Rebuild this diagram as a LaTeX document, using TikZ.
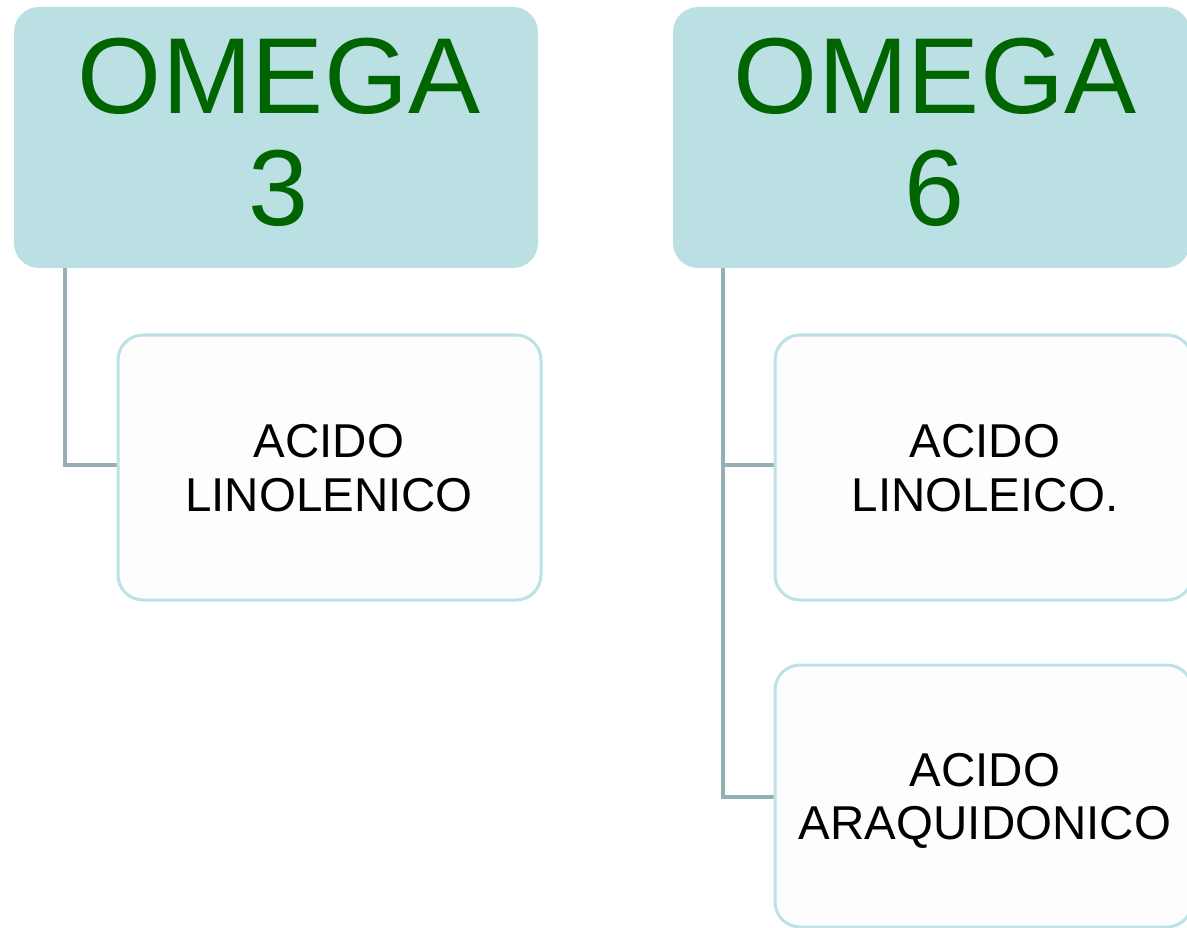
\documentclass[tikz,border=0pt]{standalone}
\usepackage{fontspec}
\setmainfont{Liberation Sans}
\definecolor{headfill}{RGB}{186,224,227}
\definecolor{headtext}{RGB}{0,100,0}
\definecolor{childborder}{RGB}{189,225,229}
\definecolor{childfill}{RGB}{253,253,253}
\definecolor{linkcol}{RGB}{149,176,181}
\begin{document}
\begin{tikzpicture}[x=1pt,y=-1pt,
  headbox/.style={fill=headfill, draw=none, rounded corners=25pt, inner sep=0pt},
  childbox/.style={fill=childfill, draw=childborder, line width=3pt, rounded corners=25pt, inner sep=0pt},
  headlabel/.style={anchor=base, inner sep=0pt, text=headtext, font=\fontsize{108}{112}\selectfont},
  childlabel/.style={anchor=base, inner sep=0pt, text=black, font=\fontsize{47.5}{54}\selectfont},
  link/.style={draw=linkcol, line width=4pt}]
\useasboundingbox (0,0) rectangle (1187,928);
% header boxes
\node[headbox, minimum width=524pt, minimum height=261pt] (o3) at (276,137.5) {};
\node[headbox, minimum width=517pt, minimum height=261pt] (o6) at (931.5,137.5) {};
% connectors
\draw[link] ([xshift=51pt]o3.south west) |- (329.5,465) coordinate (c1in);
\draw[link] ([xshift=50pt]o6.south west) |- (983.5,465) coordinate (c2in);
\draw[link] ([xshift=50pt]o6.south west) |- (983.5,797) coordinate (c3in);
% child boxes
\node[childbox, minimum width=423pt, minimum height=265pt] (c1) at (329.5,467.5) {};
\node[childbox, minimum width=417pt, minimum height=265pt] (c2) at (983.5,467.5) {};
\node[childbox, minimum width=417pt, minimum height=262pt] (c3) at (983.5,796) {};
% header texts
\node[headlabel] (o3a) at (279,114) {OMEGA};
\node[headlabel] (o3b) at (279,226) {3};
\node[headlabel] (o6a) at (935,114) {OMEGA};
\node[headlabel] (o6b) at (935,226) {6};
% child texts
\node[childlabel] (c1a) at (329,457) {ACIDO};
\node[childlabel] (c1b) at (329,511) {LINOLENICO};
\node[childlabel] (c2a) at (985,457) {ACIDO};
\node[childlabel] (c2b) at (985,511) {LINOLEICO.};
\node[childlabel] (c3a) at (985,786) {ACIDO};
\node[childlabel] (c3b) at (985,839) {ARAQUIDONICO};
\end{tikzpicture}
\end{document}
